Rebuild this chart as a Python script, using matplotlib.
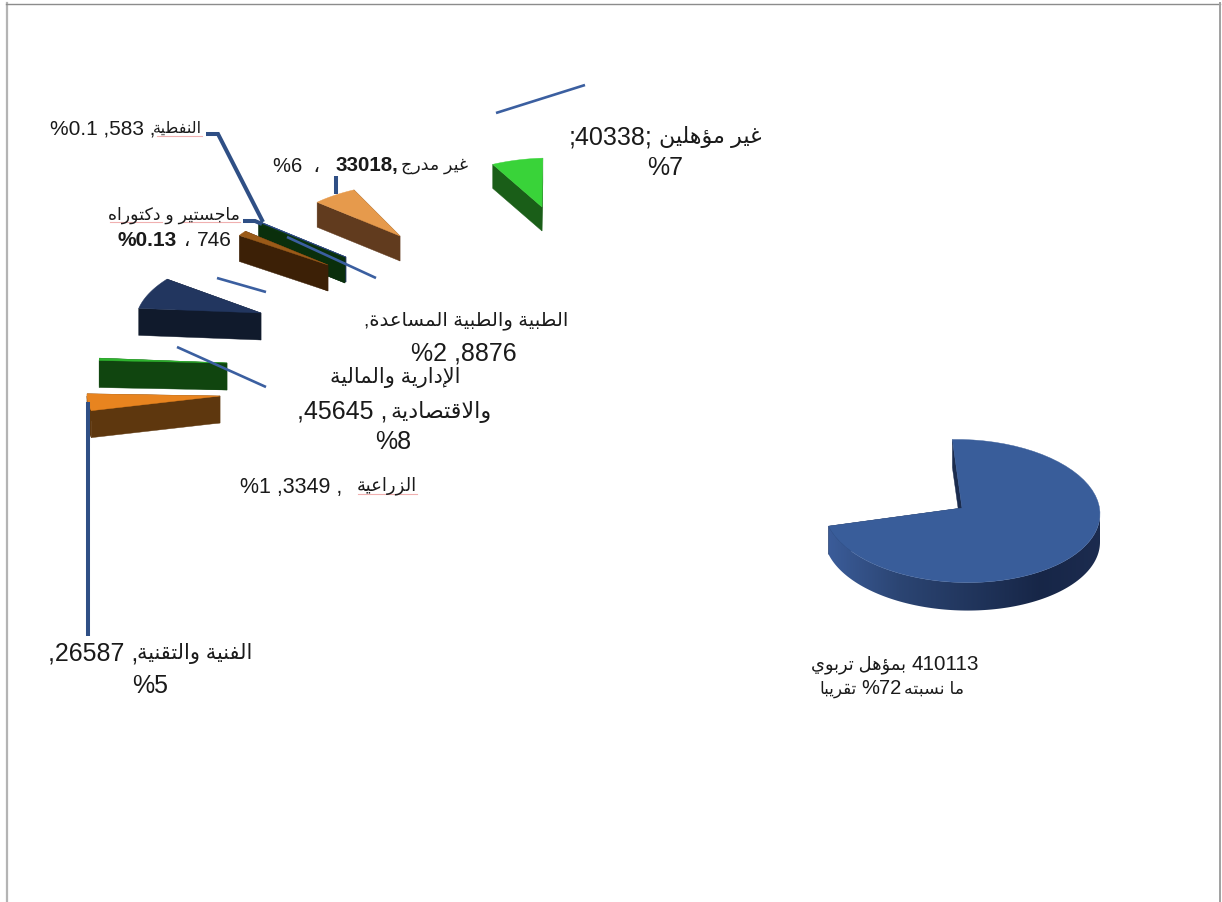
import matplotlib
matplotlib.use('Agg')
import matplotlib.pyplot as plt
from matplotlib.patches import Polygon
import numpy as np

plt.rcParams['font.family'] = ['Liberation Sans', 'DejaVu Sans']

# ------------------------------------------------------------
# data
# ------------------------------------------------------------
categories = ['بمؤهل تربوي', 'الفنية والتقنية', 'الزراعية', 'الإدارية والمالية والاقتصادية',
              'الطبية والطبية المساعدة', 'ماجستير و دكتوراه', 'النفطية', 'غير مدرج', 'غير مؤهلين']
counts = [410113, 26587, 3349, 45645, 8876, 746, 583, 33018, 40338]
pct_labels = ['72', '5', '1', '8', '2', '0.13', '0.1', '6', '7']

# slice layout, same order as counts (pixels)
tip_x = [962, 220, 227, 261, 328, 345, 346, 400, 542]
tip_y = [508, 396, 363, 313, 265, 258, 257, 236, 207]
rad_x = [138, 133, 128, 124, 106, 111, 111, 120, 116]
rad_y = [71.5, 58, 65, 62, 54, 55, 55, 53, 49]
shear_x = [0, 0, 0, 18, 0, 0, 0, 15, 9]
shear_y = [3, 0, 0, 0, 0, 0, 0, 0, 0]
drop_y = [3, 0, 0, 0, 0, 0, 0, 0, 0]
depth = [28, 27, 27, 27, 26, 25, 25, 25, 24]
top_colors = ['#395d9a', '#e8841f', '#2fb52f', '#22365f', '#9a5a18', '#0b3a10', '#33558f', '#e69a4c', '#39d339']
wall_colors = ['#1b2c4e', '#5e370e', '#10450f', '#101a2c', '#3c2006', '#0a2f0c', '#22365f', '#613b1e', '#1a5e18']
draw_order = [7, 8, 6, 5, 4, 3, 2, 1, 0]

START_ANGLE = -4.0
BLUE = '#3b5fa0'
DARK_BLUE = '#2f4f85'
SQUIGGLE = '#f0b0b0'

# contextual forms: base code point of the isolated form, number of forms
FORMS = {'ء': (0xFE80, 1), 'أ': (0xFE83, 2), 'ؤ': (0xFE85, 2), 'إ': (0xFE87, 2), 'ا': (0xFE8D, 2),
         'ب': (0xFE8F, 4), 'ة': (0xFE93, 2), 'ت': (0xFE95, 4), 'ج': (0xFE9D, 4), 'د': (0xFEA9, 2),
         'ر': (0xFEAD, 2), 'ز': (0xFEAF, 2), 'س': (0xFEB1, 4), 'ص': (0xFEB9, 4), 'ط': (0xFEC1, 4),
         'ع': (0xFEC9, 4), 'غ': (0xFECD, 4), 'ف': (0xFED1, 4), 'ق': (0xFED5, 4), 'ك': (0xFED9, 4),
         'ل': (0xFEDD, 4), 'م': (0xFEE1, 4), 'ن': (0xFEE5, 4), 'ه': (0xFEE9, 4), 'و': (0xFEED, 2),
         'ي': (0xFEF1, 4)}
LAM_ALEF = {'ا': 0xFEFB, 'أ': 0xFEF7, 'إ': 0xFEF9}


def ar(text):
    """Arabic text to joined presentation forms, in left-to-right drawing order."""
    letters = []
    i = 0
    while i < len(text):
        c = text[i]
        if c == 'ل' and i + 1 < len(text) and text[i + 1] in LAM_ALEF:
            letters.append(('lam', LAM_ALEF[text[i + 1]]))
            i += 2
        else:
            letters.append((c, None))
            i += 1

    def joins_next(item):
        return item[0] in FORMS and FORMS[item[0]][1] == 4

    def joins_prev(item):
        return item[0] == 'lam' or (item[0] in FORMS and FORMS[item[0]][1] > 1)

    out = []
    for k, item in enumerate(letters):
        prev_join = k > 0 and joins_next(letters[k - 1]) and joins_prev(item)
        next_join = k + 1 < len(letters) and joins_next(item) and joins_prev(letters[k + 1])
        if item[0] == 'lam':
            out.append(chr(item[1] + (1 if prev_join else 0)))
        elif item[0] in FORMS:
            base = FORMS[item[0]][0]
            if prev_join and next_join:
                base += 3
            elif next_join:
                base += 2
            elif prev_join:
                base += 1
            out.append(chr(base))
        else:
            out.append(item[0])
    return ''.join(reversed(out))


def idx_z(idx):
    return 2 + draw_order.index(idx)


def draw_slice(ax, idx, a0, a1):
    tx, ty, rx, ry, d = tip_x[idx], tip_y[idx], rad_x[idx], rad_y[idx], depth[idx]

    def pt(a):
        rad = np.radians(a)
        return (tx + rx * np.sin(rad) + shear_x[idx] * np.cos(rad),
                ty + drop_y[idx] - ry * np.cos(rad) + shear_y[idx] * np.sin(rad))

    wall = wall_colors[idx]
    z = idx_z(idx)
    # radial walls, end edge first
    for a in (a1, a0):
        px, py = pt(a)
        ax.fill([px, tx, tx, px], [py, ty, ty + d, py + d], color=wall, lw=0.3, zorder=z)
    # outer wall, only the part facing the viewer
    lo, hi = max(a0, 90), min(a1, 270)
    if hi > lo:
        xs, ys = pt(np.linspace(lo, hi, 120))
        outline = np.c_[np.r_[xs, xs[::-1]], np.r_[ys, ys[::-1] + d]]
        if idx == 0:
            # large slice: shading runs along x, lighter to the left
            patch = Polygon(outline, closed=True, facecolor='none', edgecolor='none',
                            transform=ax.transData)
            ax.add_patch(patch)
            grad_x = np.linspace(xs.min(), xs.max(), 300)
            stops_x = [829, 900, 1040, 1101]
            stops = np.array([[0.23, 0.36, 0.60], [0.17, 0.27, 0.45], [0.09, 0.15, 0.28], [0.11, 0.17, 0.31]])
            grad = np.stack([np.interp(grad_x, stops_x, stops[:, c]) for c in range(3)], axis=-1)[None, :, :]
            im = ax.imshow(grad, extent=(xs.min(), xs.max(), ys.max() + d, ys.min()),
                           aspect='auto', zorder=z, interpolation='bilinear')
            im.set_clip_path(patch)
        else:
            ax.fill(outline[:, 0], outline[:, 1], color=wall, lw=0.3, zorder=z)
    # top face
    xs, ys = pt(np.linspace(a0, a1, 60))
    ax.fill(np.r_[tx, xs], np.r_[ty, ys], color=top_colors[idx], lw=0.3, zorder=z + 0.1)


fig = plt.figure(figsize=(12.22, 9.02), dpi=100)
ax = fig.add_axes([0, 0, 1, 1])
ax.axis('off')

# page frame
ax.plot([6.5, 6.5], [902, 3], color='#b4b4b4', lw=1.6, zorder=1)
ax.plot([6, 1220], [3.5, 3.5], color='#8c8c8c', lw=1.0, zorder=1)
ax.plot([1219.5, 1219.5], [3, 902], color='#a0a0a0', lw=1.4, zorder=1)

# slices, angles come from the counts
total = sum(counts)
sweeps = [c / total * 360 for c in counts]
starts = START_ANGLE + np.r_[0, np.cumsum(sweeps)[:-1]]
for idx in draw_order:
    draw_slice(ax, idx, starts[idx], starts[idx] + sweeps[idx])

ax.set_xlim(0, 1222)
ax.set_ylim(902, 0)

# leader lines
thin_lines = [((287, 376), (237, 278)), ((217, 266), (278, 292)), ((177, 266), (347, 387)), ((496, 585), (113, 85))]
for xs, ys in thin_lines:
    ax.plot(xs, ys, color=BLUE, lw=1.9, zorder=20, solid_capstyle='butt')
thick_lines = [((88, 88), (402, 636)), ((336, 336), (176, 194)),
               ((206, 218, 263), (134, 134, 222)), ((243, 255, 262), (221, 221, 224))]
for xs, ys in thick_lines:
    ax.plot(xs, ys, color=DARK_BLUE, lw=2.9, zorder=20, solid_capstyle='butt', solid_joinstyle='miter')

# spell-check underlines
for xs, y in [((157, 202), 135.5), ((183, 240), 221.5), ((110, 162), 221.5), ((358, 417), 494)]:
    ax.plot(xs, (y, y), color=SQUIGGLE, lw=0.8, zorder=21)


def label(x, y, s, size=18, ha='center', weight='normal'):
    ax.text(x, y + 2, s, fontsize=size, ha=ha, va='center', fontweight=weight, color='#1a1a1a', zorder=30)


# unqualified
label(652, 135, f';{counts[8]};', ha='right')
label(762, 135, ar(categories[8]), size=16, ha='right')
label(665, 166, f'%{pct_labels[8]}')

# not classified
label(273, 164, f'%{pct_labels[7]}  ،', size=14.5, ha='left')
label(335, 164, f'{counts[7]},', size=14.8, ha='left', weight='bold')
label(468, 164, ar(categories[7]), size=12.5, ha='right')

# oil
label(50, 127, f'%{pct_labels[6]} ,{counts[6]} ,', size=15, ha='left')
label(202, 126, ar(categories[6]), size=11.5, ha='right')

# masters and doctorate
label(240, 213, ar(categories[5]), size=12.5, ha='right')
label(118, 239, f'%{pct_labels[5]}', size=15, ha='left', weight='bold')
label(187, 239, '،', size=14, ha='center')
label(197, 239, f'{counts[5]}', size=15, ha='left')

# medical
label(568, 319, ',' + ar(categories[4]), size=14, ha='right')
label(411, 351, f'%{pct_labels[4]} ,{counts[4]}', ha='left')

# administrative
label(460, 376, ar('الإدارية والمالية'), size=15, ha='right')
label(297, 410, f',{counts[3]} ,', ha='left')
label(492, 410, ar('والاقتصادية'), size=16, ha='right')
label(393, 440, f'%{pct_labels[3]}')

# agriculture
label(240, 486, f'%{pct_labels[2]} ,{counts[2]} ,', size=15.5, ha='left')
label(417, 484, ar(categories[2]), size=13, ha='right')

# technical
label(48, 652, f',{counts[1]} ,', ha='left')
label(252, 652, ar(categories[1]), size=15, ha='right')
label(150, 684, f'%{pct_labels[1]}')

# qualified
label(979, 663, f'{counts[0]}', size=14.9, ha='right')
label(906, 663, ar(categories[0]), size=12.8, ha='right')
label(964, 687, ar('ما نسبته'), size=12.5, ha='right')
label(902, 687, f'%{pct_labels[0]}', size=14.5, ha='right')
label(857, 687, ar('تقريبا'), size=12, ha='right')

fig.savefig('out.png', dpi=100, facecolor='white')
